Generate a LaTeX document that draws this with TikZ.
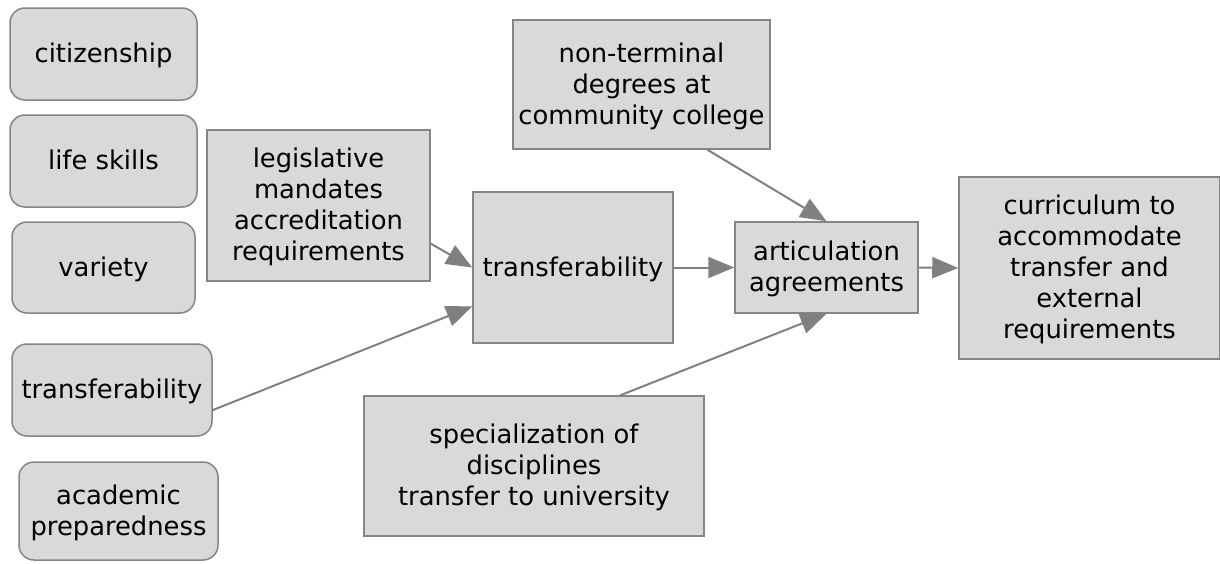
\documentclass[tikz,border=0pt]{standalone}
\usepackage{fontspec}
\setmainfont{DejaVu Sans}
\usetikzlibrary{arrows.meta,calc}
\definecolor{boxfill}{HTML}{D9D9D9}
\definecolor{boxline}{HTML}{858585}
\definecolor{arrowc}{HTML}{808080}
\newcommand{\boxtext}[1]{\raisebox{-2.5pt}[\height][\depth]{\begin{tabular}{@{}c@{}}#1\end{tabular}}}
\begin{document}
\begin{tikzpicture}[x=1pt,y=-1pt,
  base/.style={draw=boxline,fill=boxfill,line width=1.5pt,inner sep=2pt,
    font=\fontsize{25.8}{31}\selectfont},
  rbox/.style={base,rounded corners=15pt},
  sbox/.style={base},
  conn/.style={draw=arrowc,line width=2pt,-{Triangle[length=26pt,width=21pt]}}]
\useasboundingbox (0,0) rectangle (1220,563);
\node[rbox,minimum width=187pt,minimum height=92pt] (cit) at (103.5,54) {\boxtext{citizenship}};
\node[rbox,minimum width=187pt,minimum height=92pt] (life) at (103.5,161) {\boxtext{life skills}};
\node[rbox,minimum width=183pt,minimum height=91pt] (var) at (103.5,267.5) {\boxtext{variety}};
\node[rbox,minimum width=200pt,minimum height=92pt] (transL) at (112,390) {\boxtext{transferability}};
\node[rbox,minimum width=199pt,minimum height=98pt] (acad) at (118.5,511) {\boxtext{academic\\preparedness}};
\node[sbox,minimum width=223pt,minimum height=151pt] (legis) at (318.5,205.5) {\boxtext{legislative\\mandates\\accreditation\\requirements}};
\node[sbox,minimum width=200pt,minimum height=151pt] (mid) at (573,267.5) {\boxtext{transferability}};
\node[sbox,minimum width=257pt,minimum height=129pt] (nonterm) at (641.5,84.5) {\boxtext{non-terminal\\degrees at\\community college}};
\node[sbox,minimum width=340pt,minimum height=140pt] (spec) at (534,466) {\boxtext{specialization of\\disciplines\\transfer to university}};
\node[sbox,minimum width=183pt,minimum height=91pt] (artic) at (826.5,267.5) {\boxtext{articulation\\agreements}};
\node[sbox,minimum width=261pt,minimum height=182pt] (curr) at (1089.5,268) {\boxtext{curriculum to\\accommodate\\transfer and\\external\\requirements}};
\draw[conn] ($(legis.south east)!0.25!(legis.north east)$) -- (mid.west);
\draw[conn] ($(transL.east)!0.43!(transL.south east)$) -- ($(mid.west)!0.51!(mid.south west)$);
\draw[conn] (mid.east) -- (artic.west);
\draw[conn] ($(nonterm.south)!0.51!(nonterm.south east)$) -- (artic.north);
\draw[conn] ($(spec.north)!0.506!(spec.north east)$) -- (artic.south);
\draw[conn] (artic.east) -- (curr.west);
\end{tikzpicture}
\end{document}
